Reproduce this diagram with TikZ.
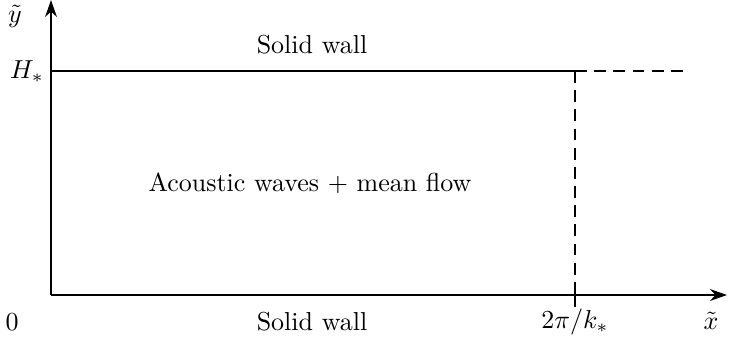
\documentclass[tikz,border=0pt]{standalone}
\usetikzlibrary{arrows.meta}
\begin{document}
\begin{tikzpicture}[x=0.385pt,y=-0.385pt,
  wall/.style={line width=1.1pt},
  dashwall/.style={line width=1.1pt,dash pattern=on 4.6pt off 2.78pt},
  axis/.style={line width=1.1pt,-{Stealth[length=6.5pt,width=4.5pt]}},
  lab/.style={inner sep=0pt}]
\useasboundingbox (0,0) rectangle (732,343);
\coordinate (O) at (51,295);
\coordinate (ytop) at (51,0);
\coordinate (xend) at (727,295);
\coordinate (Htl) at (51,71);
\coordinate (Htr) at (575,71);
\coordinate (Hend) at (688,71);
\coordinate (Paxis) at (575,295);
\coordinate (Ptick) at (575,286);
\coordinate (Pbot) at (575,307);
\draw[axis] (O) -- (ytop);
\draw[axis] (O) -- (xend);
\draw[wall] (Htl) -- (Htr);
\draw[dashwall] (Htr) -- (Hend);
\draw[dashwall] (Htr) -- (Paxis);
\draw[wall] (Ptick) -- (Pbot);
\node[lab] (ylab) at (15,16) {$\tilde y$};
\node[lab] (Hlab) at (27,72) {$H_*$};
\node[lab] (zero) at (12,322) {$0$};
\node[lab] (top) at (312,45) {Solid wall};
\node[lab] (mid) at (310,183) {Acoustic waves + mean flow};
\node[lab] (bot) at (312,322) {Solid wall};
\node[lab] (per) at (575,322) {$2\pi/k_*$};
\node[lab] (xlab) at (711,321) {$\tilde x$};
\end{tikzpicture}
\end{document}
